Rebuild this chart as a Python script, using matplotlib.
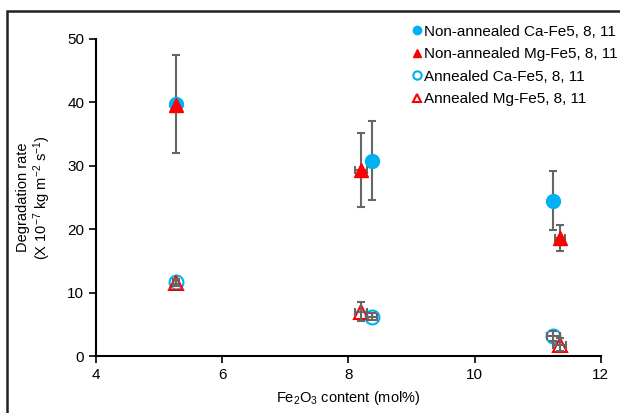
import matplotlib.pyplot as plt
from matplotlib.patches import Rectangle

plt.rcParams['font.family'] = ['Liberation Sans', 'DejaVu Sans']
plt.rcParams['mathtext.fontset'] = 'custom'
plt.rcParams['mathtext.rm'] = 'Liberation Sans'
plt.rcParams['mathtext.it'] = 'Liberation Sans'

# --- data -------------------------------------------------------------------
xCaN = [5.27, 8.38, 11.25]
yCaN = [39.7, 30.8, 24.5]
eyCaN = [7.7, 6.2, 4.6]
exCaN = [0.0, 0.0, 0.0]

xMgN = [5.27, 8.20, 11.35]
yMgN = [39.5, 29.3, 18.6]
eyMgN = [0.0, 5.85, 2.1]
exMgN = [0.0, 0.10, 0.08]

xCaA = [5.27, 8.38, 11.25]
yCaA = [11.7, 6.2, 3.2]
eyCaA = [0.4, 0.6, 0.8]
exCaA = [0.0, 0.08, 0.10]

xMgA = [5.27, 8.20, 11.35]
yMgA = [11.5, 7.0, 1.8]
eyMgA = [0.5, 1.5, 1.0]
exMgA = [0.0, 0.10, 0.10]

lbls = ['Non-annealed Ca-Fe5, 8, 11', 'Non-annealed Mg-Fe5, 8, 11',
        'Annealed Ca-Fe5, 8, 11', 'Annealed Mg-Fe5, 8, 11']

cBlue, cRed, cErr = '#00B0F0', '#FF0000', '#666666'

# --- plot -------------------------------------------------------------------
fig = plt.figure(figsize=(6.2, 4.13), dpi=100)
ax = fig.add_axes([0.155, 0.138, 0.814, 0.768])

def errs(x, y, ex, ey, z):
    ax.errorbar(x, y, xerr=ex, yerr=ey, fmt='none', ecolor=cErr, elinewidth=1.5,
                capsize=3, capthick=1.5, zorder=z)

errs(xCaN, yCaN, exCaN, eyCaN, 2)
errs(xMgN, yMgN, exMgN, eyMgN, 2)
hCaN, = ax.plot(xCaN, yCaN, 'o', ms=10, color=cBlue, mec=cBlue, zorder=3)
hMgN, = ax.plot(xMgN, yMgN, '^', ms=10, color=cRed, mec=cRed, zorder=4)
hCaA, = ax.plot(xCaA, yCaA, 'o', ms=10, mfc='none', mec=cBlue, mew=1.5, zorder=3)
hMgA, = ax.plot(xMgA, yMgA, '^', ms=10, mfc='none', mec=cRed, mew=1.5, zorder=4)
errs(xCaA, yCaA, exCaA, eyCaA, 5)
errs(xMgA, yMgA, exMgA, eyMgA, 5)

ax.set_xlim(4, 12)
ax.set_ylim(0, 50)
ax.set_xticks([4, 6, 8, 10, 12])
ax.set_yticks([0, 10, 20, 30, 40, 50])
for s in ['top', 'right']:
    ax.spines[s].set_visible(False)
for s in ['left', 'bottom']:
    ax.spines[s].set_linewidth(1.5)
ax.tick_params(direction='out', length=5, width=1.2, labelsize=11)
ax.set_xlabel('Fe$_2$O$_3$ content (mol%)', fontsize=10.5, labelpad=5)
ax.set_ylabel('Degradation rate\n(X 10$^{-7}$ kg m$^{-2}$ s$^{-1}$)',
              fontsize=10.5, labelpad=10, linespacing=1.1)

leg = fig.legend([hCaN, hMgN, hCaA, hMgA], lbls, loc='upper left',
                 bbox_to_anchor=(0.655, 0.955), frameon=False, fontsize=11,
                 handlelength=0.6, handletextpad=0.15, labelspacing=0.55,
                 markerscale=0.6, borderaxespad=0)

# figure border
fig.patches.append(Rectangle((7 / 620, -0.1), 1.2, 1 - 11 / 413 + 0.1,
                             transform=fig.transFigure, fill=False,
                             edgecolor='#222222', linewidth=1.8))

fig.savefig('out.png', dpi=100)
